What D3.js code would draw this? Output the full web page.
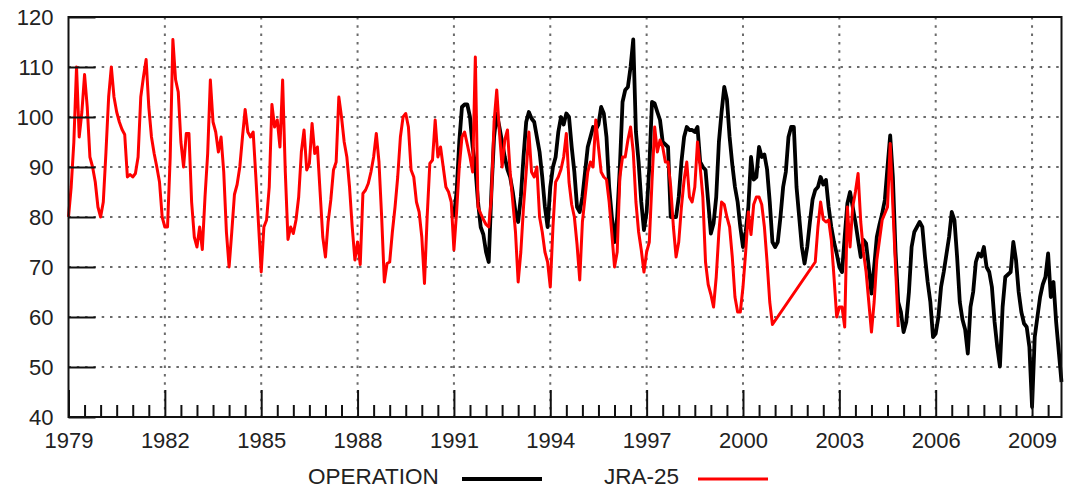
<!DOCTYPE html>
<html><head><meta charset="utf-8">
<script src="https://cdn.jsdelivr.net/npm/d3@7/dist/d3.min.js"></script>
<style>
html,body{margin:0;padding:0;background:#fff;}
svg{display:block;}
text{font-family:"Liberation Sans",Arial,Helvetica,sans-serif;fill:#222;}
</style></head><body>
<svg id="chart" width="1072" height="489"></svg>
<script>
// ---- data ----
const startYear = 1979;
const lastMonth = 371; // Dec 2009 (months since Jan 1979)
const seriesNames = ["OPERATION", "JRA-25"];
const seriesColors = ["#000000", "#ff0000"];
const xTickYears = [1979, 1982, 1985, 1988, 1991, 1994, 1997, 2000, 2003, 2006, 2009];
const yTicks = [40, 50, 60, 70, 80, 90, 100, 110, 120];
const yGrid = [50, 60, 70, 80, 90, 100, 110];

// JRA-25 monthly values from Jan 1979 (null = missing)
const jraStart = 0;
const jraValues = [
  80, 86, 95, 110, 96, 101, 108.5, 102, 92, 90,
  87, 82, 80, 83, 93, 104, 110, 104, 101, 99,
  97.5, 96.5, 88, 88.5, 88, 88.7, 92, 104, 108, 111.5,
  102, 96, 92.7, 90, 87, 80, 78, 78, 92, 115.5,
  107.5, 105, 95, 90, 96.7, 96.7, 83, 76, 74, 78,
  73.5, 84, 92.7, 107.4, 99, 97, 93, 96, 89, 77,
  70, 77, 84.5, 86.5, 90, 96, 101.5, 97, 96, 97,
  88, 78.5, 69, 78, 79.4, 86, 102.5, 98, 99.4, 94,
  107.4, 89, 75.5, 78, 76.7, 79.4, 84, 93, 97.4, 89.4,
  90.7, 98.7, 92.7, 94, 85, 76, 72, 79, 83.4, 89.4,
  91, 104, 100, 95, 92, 86, 78, 71.4, 75, 70.5,
  84.7, 85.4, 86.7, 89, 92, 96.7, 91, 80, 67, 70.7,
  71, 77, 82, 88, 96, 100, 100.7, 98, 89.4, 88,
  83, 81, 76, 66.7, 80, 90.7, 91.4, 99.4, 92, 94,
  90, 86, 85, 83, 73.4, 81, 90, 96, 97, 94.5,
  92, 89, 112, 82, 80.7, 79.5, 78.5, 78, 84, 99,
  105.4, 97, 90, 95.4, 97.4, 89, 83, 77, 67, 73,
  82, 89, 97, 89, 88, 90, 80, 77, 73, 71,
  66, 78, 87, 88, 89.5, 92, 96.7, 87, 82.5, 80,
  74.5, 67.4, 79, 84, 89, 91, 90, 99.4, 94, 89,
  88, 87.5, 83, 76.7, 70, 73, 88, 92, 92, 95.4,
  98, 93, 83, 77, 73.4, 69, 73, 75, 87, 98,
  93, 95.4, 94, 91, 91, 86, 78, 72, 75, 82,
  87.4, 91, 84, 83, 86, 95, 90, 84, 71, 66.5,
  64.5, 62, 68, 77, 83, 82.5, 80, 78, 72, 64,
  61, 61, 66, 73, 81, 76.5, 82.5, 84, 84, 82.5,
  78, 71, 63, 58.5, null, null, null, null, null, null,
  null, null, null, null, null, null, null, null, null, 71,
  78, 83, 79.5, 79, 79.4, 75.4, 68, 60, 62, 62,
  58, 82, 74, 82, 85, 88.7, 79, 73, 69, 63,
  57, 63, 71.4, 75.4, 79.4, 80.7, 82, 94.7, 82, 70,
  58
];

// OPERATION monthly values from Jan 1991
const opStart = 144;
const opValues = [
  80, 85, 95, 102, 102.5, 102.5,
  100, 94, 90, 83, 78, 76.5, 73, 71, 85, 96,
  100.7, 98, 95, 92, 89.5, 88, 85, 81, 79, 84,
  92, 99, 101, 99.7, 99, 96, 93, 88, 82, 78,
  86, 90, 92, 97, 100, 98.5, 100.7, 100, 94, 89,
  82, 81, 84, 89, 94, 96, 98, 97.5, 98.5, 102,
  100.7, 96, 86, 80, 75, 80, 90, 103, 105.4, 106,
  110, 115.5, 97, 91, 83, 77.4, 81, 90, 103, 102.7,
  101, 99.4, 95, 94.5, 94, 80, 80, 80, 84, 91,
  96, 98, 97.4, 97.4, 97, 98, 91, 90, 89.4, 83,
  76.7, 78.7, 84, 95, 101, 106, 103.5, 96, 90.5, 86,
  83, 78, 74, 77, 82, 92, 87.5, 88, 94, 92,
  92.5, 89.5, 83, 75, 74, 75, 80, 86, 89, 96,
  98, 98, 86, 80, 74, 70.7, 74, 79, 83.5, 85.4,
  86, 88, 86.5, 87.4, 82, 78, 75, 72.7, 70, 69,
  76, 82.7, 85, 82, 79, 75.4, 72, 75.4, 74.7, 70,
  64.7, 70, 76, 78.5, 80.7, 83.4, 90, 96.3, 88, 73,
  63, 61, 57, 59, 65, 74, 77, 78, 79, 78,
  72, 67, 63, 56, 56.7, 60, 66, 69, 72.5, 76,
  81, 79.4, 72, 63, 59.5, 57.5, 52.7, 62, 65, 71,
  72.7, 72.1, 74, 70, 69, 66, 59, 54, 50.1, 62,
  68, 68.5, 69, 75, 71.4, 65, 61, 58.7, 58, 54,
  42, 56, 60, 64, 66.5, 68, 72.7, 64, 67, 59,
  53, 47
];

// ---- drawing ----
const svg = d3.select("#chart");
const L = 68.5, R = 1061.5, T = 17, B = 417;
const x = d3.scaleLinear().domain([0, lastMonth]).range([L, R]);
const y = d3.scaleLinear().domain([40, 120]).range([B, T]);
const monthOf = yr => (yr - startYear) * 12;

// grid
const grid = svg.append("g").attr("stroke", "#6a6a6a").attr("stroke-width", 2)
  .attr("stroke-dasharray", "2.5,5.8").attr("fill", "none");
grid.selectAll("line.h").data(yGrid).join("line").attr("class", "h")
  .attr("x1", L).attr("x2", R).attr("y1", d => y(d)).attr("y2", d => y(d));
grid.selectAll("line.v").data(xTickYears.slice(1)).join("line").attr("class", "v")
  .attr("x1", d => x(monthOf(d))).attr("x2", d => x(monthOf(d))).attr("y1", T).attr("y2", B);

// series
const line = d3.line().x(d => x(d.m)).y(d => y(d.v));
const opData = opValues.map((v, i) => ({m: opStart + i, v})).filter(d => d.v != null);
const jraData = jraValues.map((v, i) => ({m: jraStart + i, v})).filter(d => d.v != null);
svg.append("path").datum(opData).attr("d", line).attr("fill", "none")
  .attr("stroke", seriesColors[0]).attr("stroke-width", 3.8).attr("stroke-linejoin", "round");
svg.append("path").datum(jraData).attr("d", line).attr("fill", "none")
  .attr("stroke", seriesColors[1]).attr("stroke-width", 3).attr("stroke-linejoin", "round");

// axes
const yAxis = d3.axisLeft(y).tickValues(yTicks).tickSizeInner(-27).tickSizeOuter(0).tickPadding(15);
const gy = svg.append("g").attr("transform", `translate(${L},0)`).call(yAxis);
const xAxis = d3.axisBottom(x).tickValues(xTickYears.map(monthOf))
  .tickFormat((d, i) => String(xTickYears[i])).tickSizeInner(-27).tickSizeOuter(0).tickPadding(15);
const gx = svg.append("g").attr("transform", `translate(0,${B})`).call(xAxis);
const minorMonths = d3.range(0, lastMonth + 1, 6).filter(m => m % 36 !== 0);
const gxm = svg.append("g").attr("transform", `translate(0,${B})`)
  .call(d3.axisBottom(x).tickValues(minorMonths).tickFormat("").tickSizeInner(-12).tickSizeOuter(0));
[gy, gx, gxm].forEach(g => {
  g.select(".domain").remove();
  g.selectAll(".tick line").attr("stroke", "#111").attr("stroke-width", 2);
  g.selectAll(".tick text").attr("font-size", 22).attr("fill", "#222")
    .attr("font-family", '"Liberation Sans", Arial, sans-serif');
});

// frame
svg.append("rect").attr("x", L).attr("y", T).attr("width", R - L).attr("height", B - T)
  .attr("fill", "none").attr("stroke", "#111").attr("stroke-width", 2);

// legend
const legend = [
  {name: seriesNames[0], color: seriesColors[0], tx: 308, x1: 462, x2: 542, w: 4.2},
  {name: seriesNames[1], color: seriesColors[1], tx: 604, x1: 698, x2: 768, w: 3}
];
const lg = svg.append("g");
legend.forEach(d => {
  lg.append("text").attr("x", d.tx).attr("y", 484).attr("font-size", 22.5).text(d.name);
  lg.append("line").attr("x1", d.x1).attr("x2", d.x2).attr("y1", 479).attr("y2", 479)
    .attr("stroke", d.color).attr("stroke-width", d.w);
});
</script>
</body></html>
